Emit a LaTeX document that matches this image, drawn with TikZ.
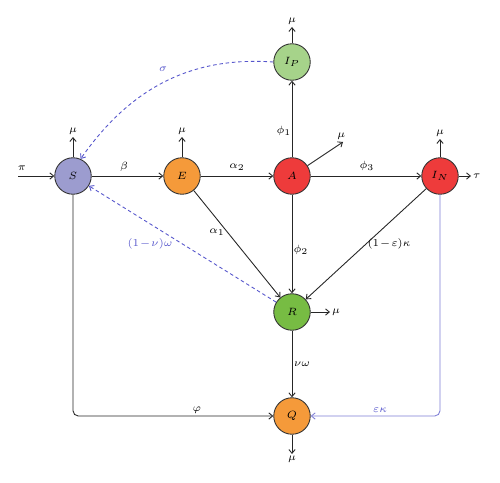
\documentclass[tikz,border=0pt]{standalone}
\usetikzlibrary{arrows.meta}
\definecolor{cS}{HTML}{9C9CCF}
\definecolor{cE}{HTML}{F59A3A}
\definecolor{cA}{HTML}{EE3B3B}
\definecolor{cIP}{HTML}{A6D38A}
\definecolor{cR}{HTML}{77BC43}
\definecolor{cblue}{HTML}{5555CC}
\definecolor{cblue2}{HTML}{7F7FD6}
\begin{document}
\begin{tikzpicture}[x=0.02cm,y=-0.02cm,font=\fontsize{6.5}{8}\selectfont,
  comp/.style={circle,draw=black!80,line width=0.5pt,minimum size=0.73cm,inner sep=0pt},
  flow/.style={draw=black!85,line width=0.5pt,-{Straight Barb[length=2.2pt,width=3.6pt]}},
  bflow/.style={flow,draw=cblue,dash pattern=on 2pt off 1.6pt},
  lbl/.style={inner sep=1pt,execute at begin node={\medmuskip=1.5mu}},
  blbl/.style={lbl,text=cblue}]
\useasboundingbox (0,0) rectangle (500,483);
\fill[white] (0,0) rectangle (500,483);
% compartments
\node[comp,fill=cS]  (S)  at (73,176)  {$S$};
\node[comp,fill=cE]  (E)  at (182,176) {$E$};
\node[comp,fill=cA]  (A)  at (292,176) {$A$};
\node[comp,fill=cA]  (IN) at (440,176) {$I_{\scriptscriptstyle N}$};
\node[comp,fill=cIP] (IP) at (292,62)  {$I_{\scriptscriptstyle P}$};
\node[comp,fill=cR]  (R)  at (292,312) {$R$};
\node[comp,fill=cE]  (Q)  at (292,416) {$Q$};
% free ends
\coordinate (piin) at (18,176);
\coordinate (Smu) at (73,137);
\coordinate (Emu) at (182,137);
\coordinate (Amu) at (343,142);
\coordinate (INmu) at (440,139);
\coordinate (INtau) at (471,176);
\coordinate (IPmu) at (292,27);
\coordinate (Rmu) at (330,312);
\coordinate (Qmu) at (292,454);
\coordinate (SQc) at (73,416);
\coordinate (INQc) at (440,416);
% inflow / outflows
\draw[flow] (piin) -- (S);
\node[lbl] (lpi) at (22,168) {$\pi$};
\draw[flow] (S) -- (Smu) node[lbl,above] {$\mu$};
\draw[flow] (E) -- (Emu) node[lbl,above] {$\mu$};
\draw[flow] (A) -- (Amu) node[lbl,above,xshift=-1pt] {$\mu$};
\draw[flow] (IN) -- (INmu) node[lbl,above] {$\mu$};
\draw[flow] (IN) -- (INtau) node[lbl,right] {$\tau$};
\draw[flow] (IP) -- (IPmu) node[lbl,above] {$\mu$};
\draw[flow] (R) -- (Rmu) node[lbl,right] {$\mu$};
\draw[flow] (Q) -- (Qmu) node[lbl,below] {$\mu$};
% transitions
\draw[flow] (S) -- (E);
\node[lbl] (lbeta) at (124,167) {$\beta$};
\draw[flow] (E) -- (A);
\node[lbl] (la2) at (237,167) {$\alpha_{\scriptscriptstyle 2}$};
\draw[flow] (A) -- (IN);
\node[lbl] (lp3) at (367,166) {$\phi_{\scriptscriptstyle 3}$};
\draw[flow] (A) -- (IP);
\node[lbl] (lp1) at (284,131) {$\phi_{\scriptscriptstyle 1}$};
\draw[flow] (A) -- (R);
\node[lbl] (lp2) at (301,250) {$\phi_{\scriptscriptstyle 2}$};
\draw[flow] (E) -- (R);
\node[lbl] (la1) at (217,232) {$\alpha_{\scriptscriptstyle 1}$};
\draw[flow] (IN) -- (R);
\node[lbl] (lek) at (389,244) {$(1-\varepsilon)\kappa$};
\draw[flow] (R) -- (Q);
\node[lbl] (lnw) at (302,364) {$\nu\omega$};
\draw[flow,rounded corners=3pt] (S) -- (SQc) -- (Q);
\node[lbl] (lphi) at (197,410) {$\varphi$};
\draw[flow,draw=cblue2,rounded corners=3pt] (IN) -- (INQc) -- (Q);
\node[blbl] (lepk) at (380,410) {$\varepsilon\kappa$};
% dashed returns
\draw[bflow] (R) -- (S);
\node[blbl] (lnuw) at (150,244) {$(1-\nu)\omega$};
\draw[bflow] (IP.west) to[out=176,in=55] (S.66);
\node[blbl] (lsig) at (163,69) {$\sigma$};
\end{tikzpicture}
\end{document}
